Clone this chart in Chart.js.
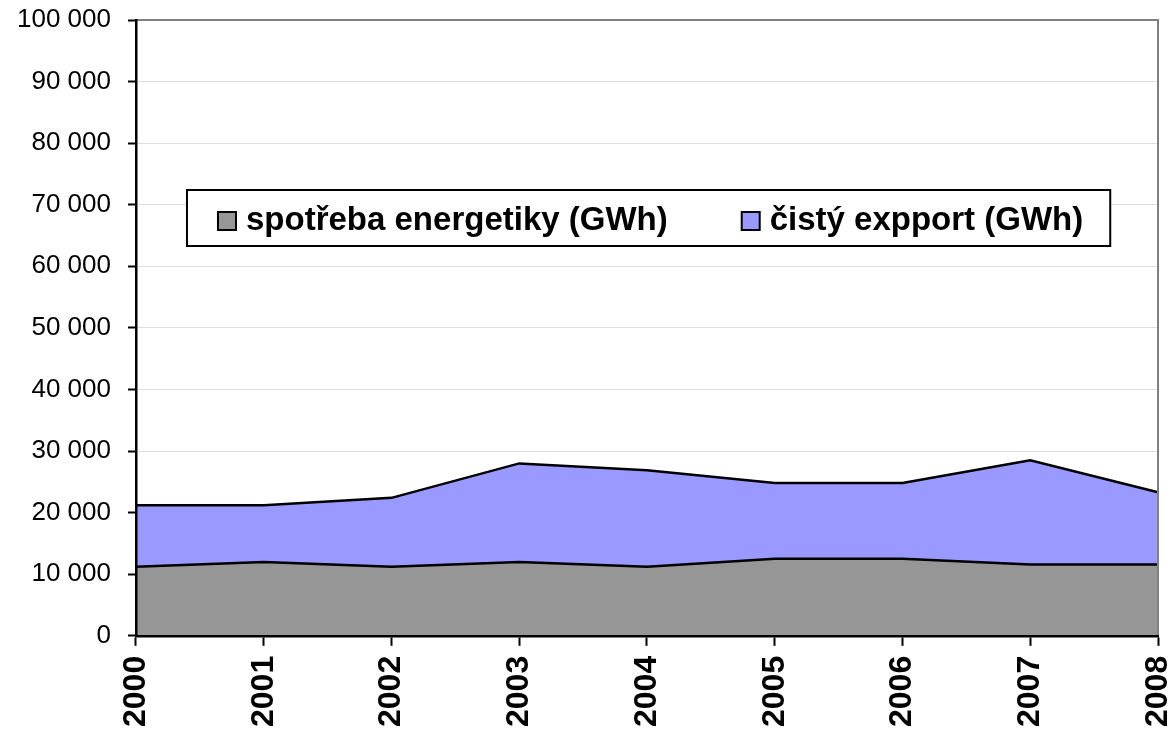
<!DOCTYPE html>
<html>
<head>
<meta charset="utf-8">
<script src="https://cdn.jsdelivr.net/npm/chart.js@4.4.1/dist/chart.umd.min.js"></script>
<style>
  html, body { margin: 0; padding: 0; background: #ffffff; }
  #wrap { width: 1169px; height: 730px; }
</style>
</head>
<body>
<div id="wrap"><canvas id="c" width="1169" height="730"></canvas></div>
<script>
const years = ['2000', '2001', '2002', '2003', '2004', '2005', '2006', '2007', '2008'];
const spotrebaEnergetiky = [11200, 12000, 11200, 12000, 11200, 12500, 12500, 11600, 11600];
const cistyExport = [10000, 9200, 11200, 16000, 15700, 12300, 12300, 16900, 11700];
const seriesNames = ['spotřeba energetiky (GWh)', 'čistý expport (GWh)'];
const yTicksMin = 0, yTicksMax = 100000, yTicksStep = 10000;

const FONT = "'Liberation Sans', Arial, sans-serif";

function fmt(v) {
  return String(v).replace(/\B(?=(\d{3})+(?!\d))/g, ' ');
}

const frameAndLegend = {
  id: 'frameAndLegend',
  afterDatasetsDraw(chart) {
    const ctx = chart.ctx;
    const a = chart.chartArea;
    ctx.save();
    ctx.strokeStyle = '#808080';
    ctx.lineWidth = 2;
    ctx.beginPath();
    ctx.moveTo(a.left, a.top);
    ctx.lineTo(a.right, a.top);
    ctx.lineTo(a.right, a.bottom);
    ctx.stroke();
    ctx.restore();
  },
  afterDraw(chart) {
    const ctx = chart.ctx;
    const a = chart.chartArea;
    ctx.save();
    ctx.font = "bold 33px " + FONT;
    ctx.textBaseline = 'middle';
    ctx.textAlign = 'left';
    const boxLeft = a.left + 51;
    const boxTop = a.top + 170;
    const boxH = 56;
    const cy = boxTop + boxH / 2 + 3;
    let x = boxLeft + 31;
    const items = chart.data.datasets.map(ds => ({ text: ds.label, color: ds.backgroundColor }));
    const positions = [];
    items.forEach((it, i) => {
      const w = ctx.measureText(it.text).width;
      positions.push({ x, w, it });
      x += 18 + 10 + w + (i < items.length - 1 ? 74 : 0);
    });
    const boxRight = x + 27;
    ctx.fillStyle = '#ffffff';
    ctx.fillRect(boxLeft, boxTop, boxRight - boxLeft, boxH);
    ctx.strokeStyle = '#000000';
    ctx.lineWidth = 2;
    ctx.strokeRect(boxLeft, boxTop, boxRight - boxLeft, boxH);
    positions.forEach(p => {
      ctx.fillStyle = p.it.color;
      ctx.fillRect(p.x, cy - 9, 18, 18);
      ctx.lineWidth = 2;
      ctx.strokeStyle = '#000000';
      ctx.strokeRect(p.x, cy - 9, 18, 18);
      ctx.fillStyle = '#000000';
      ctx.fillText(p.it.text, p.x + 28, cy);
    });
    ctx.restore();
  }
};

new Chart(document.getElementById('c'), {
  type: 'line',
  data: {
    labels: years,
    datasets: [
      {
        label: seriesNames[0],
        data: spotrebaEnergetiky,
        backgroundColor: '#969696',
        borderColor: '#000000',
        borderWidth: 2.5,
        fill: 'origin',
        pointRadius: 0,
        tension: 0
      },
      {
        label: seriesNames[1],
        data: cistyExport,
        backgroundColor: '#9999ff',
        borderColor: '#000000',
        borderWidth: 2.5,
        fill: '-1',
        pointRadius: 0,
        tension: 0
      }
    ]
  },
  options: {
    responsive: false,
    animation: false,
    devicePixelRatio: 1,
    layout: { padding: { left: 0, right: 11, top: 20, bottom: -7 } },
    plugins: {
      legend: { display: false },
      tooltip: { enabled: false },
      title: { display: false }
    },
    scales: {
      x: {
        offset: false,
        afterFit: (s) => { s.paddingRight = 0; s.paddingLeft = 0; },
        grid: {
          drawOnChartArea: false,
          drawTicks: true,
          tickLength: 10,
          tickColor: '#000000',
          tickWidth: 2
        },
        border: { color: '#000000', width: 2.5, z: 1 },
        ticks: {
          color: '#000000',
          font: { family: FONT, size: 32, weight: 'bold' },
          minRotation: 90,
          maxRotation: 90,
          padding: 10,
          autoSkip: false
        }
      },
      y: {
        stacked: true,
        min: yTicksMin,
        max: yTicksMax,
        afterFit: (s) => { s.paddingTop = 0; s.paddingBottom = 0; },
        grid: {
          color: (c) => c.tick && c.tick.value === yTicksMax ? 'rgba(0,0,0,0)' : '#dddddd',
          lineWidth: 1,
          tickLength: 8,
          tickColor: '#000000',
          tickWidth: 2
        },
        border: { color: '#000000', width: 2.5, z: 1 },
        ticks: {
          stepSize: yTicksStep,
          color: '#000000',
          font: { family: FONT, size: 26 },
          padding: 17,
          callback: (v) => fmt(v)
        }
      }
    }
  },
  plugins: [frameAndLegend]
});
</script>
</body>
</html>
